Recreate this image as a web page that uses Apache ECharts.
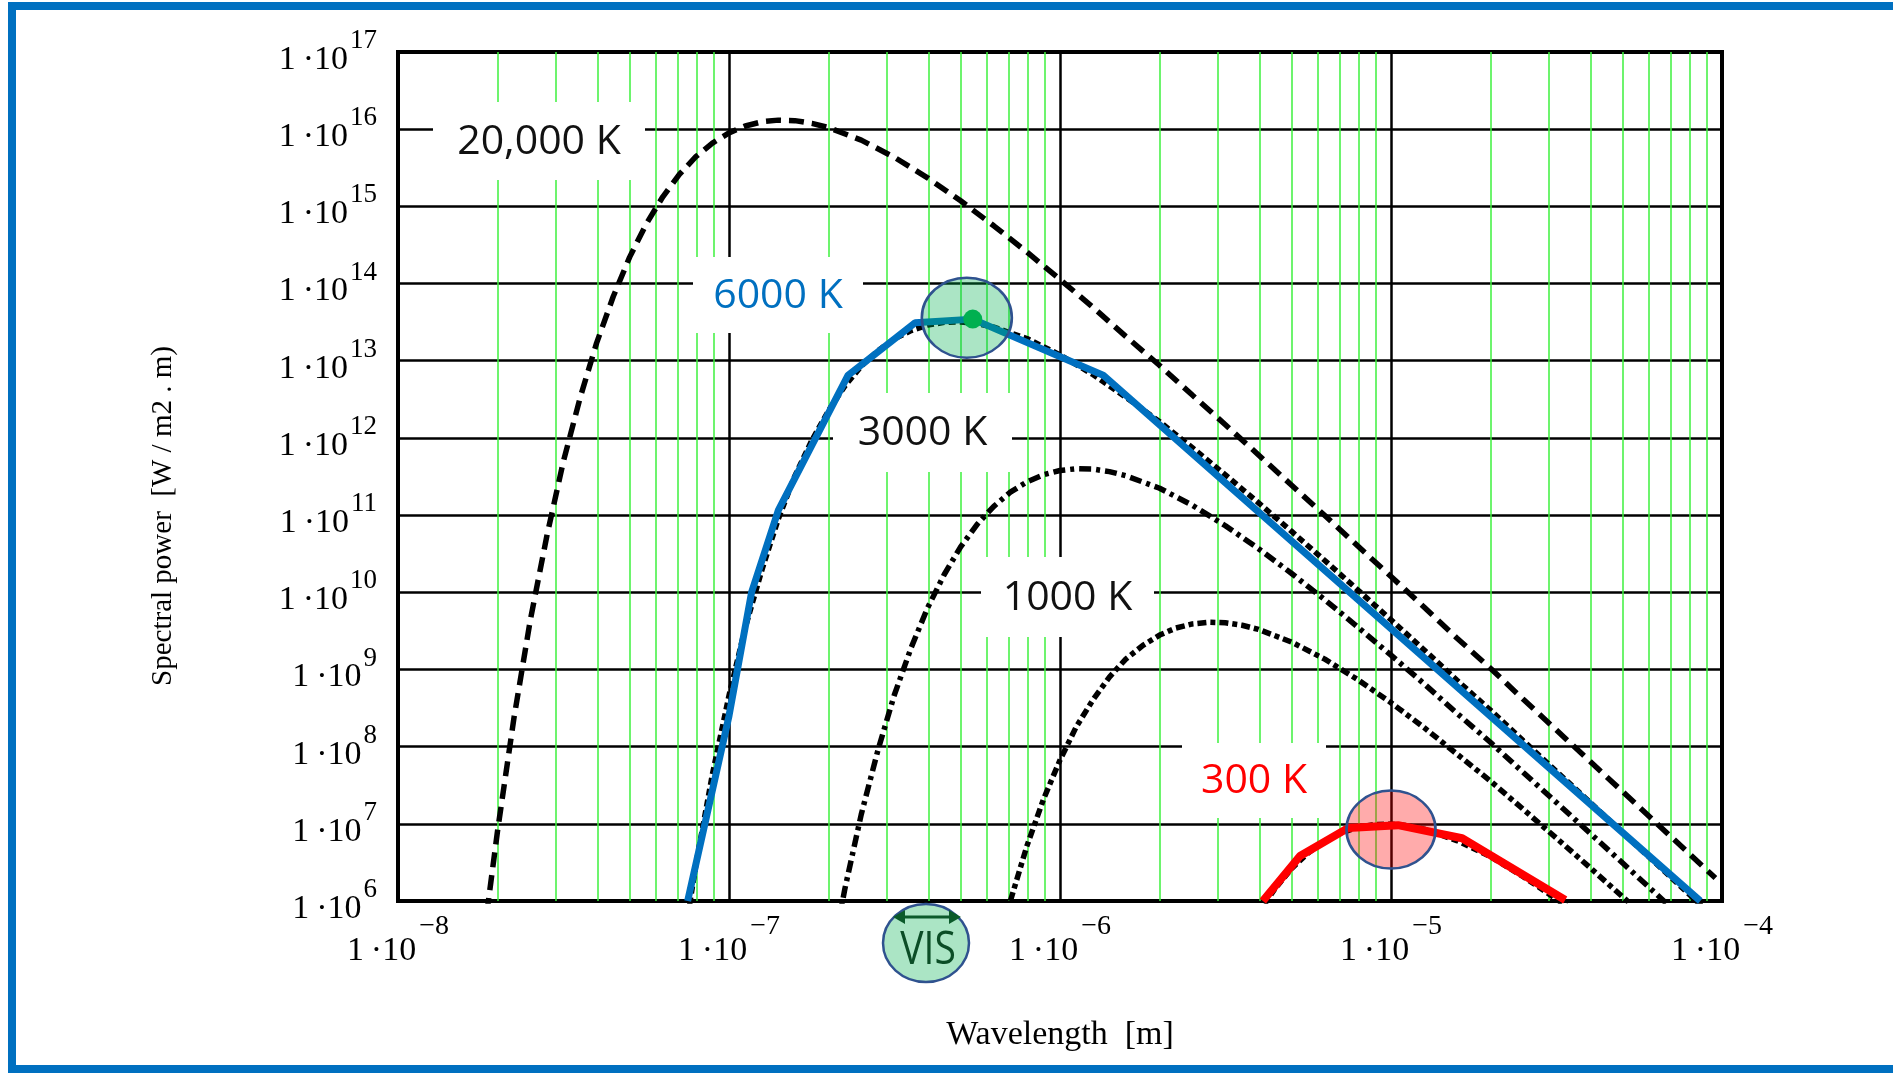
<!DOCTYPE html>
<html>
<head>
<meta charset="utf-8">
<script src="https://cdn.jsdelivr.net/npm/echarts@6/dist/echarts.min.js"></script>
<style>
html,body{margin:0;padding:0;background:#fff;}
#chart{width:1893px;height:1073px;}
</style>
</head>
<body>
<div id="chart"></div>
<script>
// ---------- tick labels ----------
const tickMantissa = '1\u2009·10';
const xTickExponents = ['−8', '−7', '−6', '−5', '−4'];
const yTickExponents = ['6', '7', '8', '9', '10', '11', '12', '13', '14', '15', '16', '17'];

// ---------- curve labels ----------
const curveLabels = ['20,000 K', '6000 K', '3000 K', '1000 K', '300 K'];

// ---------- series values (wavelength [m], spectral power) ----------
const lambda20000K = [1.78e-8, 2.00e-8, 2.24e-8, 2.51e-8, 2.82e-8, 3.16e-8, 3.55e-8, 3.98e-8, 4.47e-8, 5.01e-8,
  5.62e-8, 6.31e-8, 7.08e-8, 7.94e-8, 8.91e-8, 1.00e-7, 1.12e-7, 1.26e-7, 1.41e-7, 1.58e-7, 1.78e-7, 2.00e-7,
  2.51e-7, 3.16e-7, 3.98e-7, 5.01e-7, 6.31e-7, 7.94e-7, 1.00e-6, 1.26e-6, 1.58e-6, 2.00e-6, 2.51e-6, 3.16e-6,
  3.98e-6, 5.01e-6, 6.31e-6, 7.94e-6, 1.00e-5, 1.26e-5, 1.58e-5, 2.00e-5, 2.51e-5, 3.16e-5, 3.98e-5, 5.01e-5,
  6.31e-5, 7.94e-5, 9.55e-5];
const power20000K = [1.80e5, 8.26e6, 2.34e8, 4.35e9, 5.51e10, 4.97e11, 3.31e12, 1.69e13, 6.79e13, 2.20e14,
  5.89e14, 1.33e15, 2.59e15, 4.40e15, 6.61e15, 8.95e15, 1.10e16, 1.25e16, 1.31e16, 1.29e16, 1.19e16, 1.05e16,
  7.21e15, 4.32e15, 2.34e15, 1.18e15, 5.60e14, 2.56e14, 1.13e14, 4.89e13, 2.07e13, 8.67e12, 3.59e12, 1.48e12,
  6.01e11, 2.44e11, 9.86e10, 3.97e10, 1.60e10, 6.41e9, 2.56e9, 1.03e9, 4.10e8, 1.64e8, 6.53e7, 2.61e7,
  1.04e7, 4.14e6, 1.98e6];

const lambda6000K = [7.08e-8, 7.94e-8, 8.91e-8, 1.00e-7, 1.12e-7, 1.26e-7, 1.41e-7, 1.58e-7, 1.78e-7, 2.00e-7,
  2.24e-7, 2.51e-7, 2.82e-7, 3.16e-7, 3.55e-7, 3.98e-7, 4.47e-7, 5.01e-7, 5.62e-7, 6.31e-7, 7.94e-7, 1.00e-6,
  1.26e-6, 1.58e-6, 2.00e-6, 2.51e-6, 3.16e-6, 3.98e-6, 5.01e-6, 6.31e-6, 7.94e-6, 1.00e-5, 1.26e-5, 1.58e-5,
  2.00e-5, 2.51e-5, 3.16e-5, 3.98e-5, 5.01e-5, 6.31e-5, 7.94e-5, 8.71e-5];
const power6000K = [1.30e5, 2.92e6, 4.38e7, 4.59e8, 3.50e9, 2.01e10, 8.98e10, 3.20e11, 9.33e11, 2.27e12,
  4.72e12, 8.51e12, 1.35e13, 1.92e13, 2.46e13, 2.89e13, 3.14e13, 3.18e13, 3.02e13, 2.72e13, 1.94e13, 1.19e13,
  6.59e12, 3.37e12, 1.62e12, 7.46e11, 3.32e11, 1.44e11, 6.14e10, 2.58e10, 1.07e10, 4.40e9, 1.79e9, 7.29e8,
  2.95e8, 1.19e8, 4.79e7, 1.92e7, 7.69e6, 3.08e6, 1.23e6, 8.53e5];

// thick blue trace drawn over the 6000 K curve
const lambda6000KTrace = [7.50e-8, 1.00e-7, 1.17e-7, 1.41e-7, 2.29e-7, 3.65e-7, 5.45e-7, 1.35e-6, 8.60e-5];
const power6000KTrace = [1.0e6, 2.5e8, 1.0e10, 1.16e11, 6.5e12, 3.1e13, 3.46e13, 6.5e12, 1.0e6];

const lambda3000K = [2.00e-7, 2.24e-7, 2.51e-7, 2.82e-7, 3.16e-7, 3.55e-7, 3.98e-7, 4.47e-7, 5.01e-7, 5.62e-7,
  6.31e-7, 7.08e-7, 7.94e-7, 8.91e-7, 1.00e-6, 1.12e-6, 1.26e-6, 1.41e-6, 1.58e-6, 2.00e-6, 2.51e-6, 3.16e-6,
  3.98e-6, 5.01e-6, 6.31e-6, 7.94e-6, 1.00e-5, 1.26e-5, 1.58e-5, 2.00e-5, 2.51e-5, 3.16e-5, 3.98e-5, 5.01e-5,
  6.31e-5, 7.08e-5];
const power3000K = [1.12e5, 1.45e6, 1.33e7, 9.08e7, 4.70e8, 1.91e9, 6.27e9, 1.70e10, 3.88e10, 7.60e10,
  1.30e11, 1.98e11, 2.69e11, 3.33e11, 3.78e11, 3.99e11, 3.94e11, 3.66e11, 3.24e11, 2.23e11, 1.34e11, 7.28e10,
  3.67e10, 1.75e10, 8.00e9, 3.54e9, 1.53e9, 6.50e8, 2.72e8, 1.13e8, 4.62e7, 1.89e7, 7.66e6, 3.10e6,
  1.25e6, 7.91e5];

const lambda1000K = [6.31e-7, 7.08e-7, 7.94e-7, 8.91e-7, 1.00e-6, 1.12e-6, 1.26e-6, 1.41e-6, 1.58e-6, 1.78e-6,
  2.00e-6, 2.24e-6, 2.51e-6, 2.82e-6, 3.16e-6, 3.55e-6, 3.98e-6, 5.01e-6, 6.31e-6, 7.94e-6, 1.00e-5, 1.26e-5,
  1.58e-5, 2.00e-5, 2.51e-5, 3.16e-5, 3.98e-5, 5.01e-5, 5.25e-5];
const power1000K = [1.49e5, 1.00e6, 5.13e6, 2.07e7, 6.71e7, 1.81e8, 4.09e8, 7.98e8, 1.36e9, 2.05e9,
  2.79e9, 3.44e9, 3.89e9, 4.09e9, 4.03e9, 3.74e9, 3.30e9, 2.26e9, 1.36e9, 7.36e8, 3.71e8, 1.76e8,
  8.05e7, 3.56e7, 1.54e7, 6.53e6, 2.74e6, 1.13e6, 9.48e5];

const lambda300K = [3.98e-6, 4.47e-6, 5.01e-6, 5.62e-6, 6.31e-6, 7.08e-6, 7.94e-6, 8.91e-6, 1.00e-5, 1.12e-5,
  1.26e-5, 1.58e-5, 2.00e-5, 2.51e-5, 3.16e-5, 3.55e-5];
const power300K = [6.98e5, 1.46e6, 2.63e6, 4.19e6, 5.96e6, 7.67e6, 9.02e6, 9.79e6, 9.93e6, 9.46e6,
  8.53e6, 6.07e6, 3.74e6, 2.07e6, 1.06e6, 7.40e5];

// thick red trace drawn over the 300 K curve
const lambda300KTrace = [4.10e-6, 5.31e-6, 7.41e-6, 1.05e-5, 1.64e-5, 3.36e-5];
const power300KTrace = [1.0e6, 3.83e6, 8.8e6, 9.6e6, 6.5e6, 1.03e6];

// highlighted peaks [wavelength, power]
const peak6000K = [5.45e-7, 3.46e13];
const peakZone6000K = [5.23e-7, 3.61e13];
const peakZone300K = [1.0e-5, 8.43e6];

// axis range
const xMin = 1e-8, xMax = 1e-4, yMin = 1e6, yMax = 1e17;

// ---------- helpers ----------
function zip(xs, ys) { return xs.map((x, i) => [x, ys[i]]); }
function tickExp(v) { return Math.round(Math.log10(v)); }

const serif = '"Liberation Serif", "Times New Roman", serif';
const sans = '"Open Sans", "Noto Sans", sans-serif';
const richY = {
  b: { fontFamily: serif, fontSize: 34, color: '#000', height: 30, lineHeight: 46, verticalAlign: 'bottom' },
  e: { fontFamily: serif, fontSize: 27, color: '#000', height: 24, lineHeight: 46, verticalAlign: 'top', padding: [0, 0, 0, 2] }
};
const richX = {
  b: { fontFamily: serif, fontSize: 34, color: '#000', height: 30, lineHeight: 52, verticalAlign: 'bottom' },
  e: { fontFamily: serif, fontSize: 28, color: '#000', height: 26, lineHeight: 52, verticalAlign: 'top', padding: [0, 0, 0, 3] }
};

// minor (2..9) vertical grid positions
const minorX = [];
for (let k = -8; k <= -5; k++) {
  for (let m = 2; m <= 9; m++) minorX.push(m * Math.pow(10, k));
}

const chart = echarts.init(document.getElementById('chart'), null, { renderer: 'canvas' });

function labelBox(text, color, x1, y1, x2, y2) {
  return {
    type: 'group', z: 2,
    children: [
      { type: 'rect', z: 2, shape: { x: x1, y: y1, width: x2 - x1, height: y2 - y1 }, style: { fill: '#fff' } },
      { type: 'text', z: 2, x: (x1 + x2) / 2, y: (y1 + y2) / 2 + 1,
        style: { text: text, fill: color, font: '41px ' + sans, align: 'center', verticalAlign: 'middle' } }
    ]
  };
}

const blackCurve = (name, xs, ys, dash) => ({
  name: name, type: 'line', z: 3, showSymbol: false, symbol: 'none', data: zip(xs, ys),
  lineStyle: { color: '#000', width: 5.5, type: dash }
});

const option = {
  animation: false,
  backgroundColor: '#fff',
  grid: { left: 398, right: 171, top: 52, bottom: 172, show: true, borderColor: '#000', borderWidth: 4, backgroundColor: 'transparent' },
  xAxis: {
    type: 'log', logBase: 10, min: xMin, max: xMax, interval: 1,
    name: 'Wavelength  [m]', nameLocation: 'middle', nameGap: 117,
    nameTextStyle: { fontFamily: serif, fontSize: 34, color: '#000' },
    axisLine: { show: true, lineStyle: { color: '#000', width: 4 } },
    axisTick: { show: false },
    splitLine: { show: true, lineStyle: { color: '#000', width: 2.5 } },
    axisLabel: {
      interval: 0, margin: 13, showMinLabel: true, showMaxLabel: true,
      formatter: v => '{b|' + tickMantissa + '}{e|' + xTickExponents[tickExp(v) + 8] + '}',
      rich: richX
    }
  },
  yAxis: {
    type: 'log', logBase: 10, min: yMin, max: yMax, interval: 1,
    axisLine: { show: true, lineStyle: { color: '#000', width: 4 } },
    axisTick: { show: false },
    splitLine: { show: true, lineStyle: { color: '#000', width: 2.5 } },
    axisLabel: {
      interval: 0, margin: 21, showMinLabel: true, showMaxLabel: true,
      formatter: v => '{b|' + tickMantissa + '}{e|' + yTickExponents[tickExp(v) - 6] + '}',
      rich: richY
    }
  },
  graphic: [
    // blue frame
    { type: 'rect', z: 0, shape: { x: 8, y: 2, width: 1885, height: 8 }, style: { fill: '#0070c0' } },
    { type: 'rect', z: 0, shape: { x: 8, y: 2, width: 8, height: 1071 }, style: { fill: '#0070c0' } },
    { type: 'rect', z: 0, shape: { x: 8, y: 1065, width: 1885, height: 8 }, style: { fill: '#0070c0' } },
    // y axis title
    { type: 'text', z: 2, x: 163, y: 516, rotation: Math.PI / 2,
      style: { text: 'Spectral power  [W / m2 . m)', font: '29px ' + serif, fill: '#000', align: 'center', verticalAlign: 'middle' } },
    // curve labels (white boxes hide grid)
    labelBox(curveLabels[0], '#111', 433, 102, 645, 180),
    labelBox(curveLabels[1], '#0070c0', 693, 257, 863, 333),
    labelBox(curveLabels[2], '#111', 833, 393, 1012, 472),
    labelBox(curveLabels[3], '#111', 981, 557, 1154, 637),
    labelBox(curveLabels[4], '#ff0000', 1182, 743, 1326, 818),
    // VIS marker
    { type: 'ellipse', z: 5, shape: { cx: 926, cy: 943, rx: 43, ry: 39 },
      style: { fill: 'rgba(0,176,80,0.33)', stroke: '#2f528f', lineWidth: 2.5 } },
    { type: 'line', z: 6, shape: { x1: 900, y1: 917, x2: 954, y2: 917 }, style: { stroke: '#0b5a2a', lineWidth: 3 } },
    { type: 'polygon', z: 6, shape: { points: [[893, 917], [905, 910], [905, 924]] }, style: { fill: '#0b5a2a' } },
    { type: 'polygon', z: 6, shape: { points: [[961, 917], [949, 910], [949, 924]] }, style: { fill: '#0b5a2a' } },
    { type: 'text', z: 6, x: 928, y: 951, scaleX: 0.85,
      style: { text: 'VIS', font: '46px ' + sans, fill: '#0b4d26', align: 'center', verticalAlign: 'middle' } }
  ],
  series: [
    Object.assign(blackCurve('20,000 K', lambda20000K, power20000K, [15, 8]), {
      markLine: {
        z: 1, silent: true, symbol: ['none', 'none'], label: { show: false },
        lineStyle: { color: '#3cf03c', width: 1.5, type: 'solid' },
        emphasis: { disabled: true },
        data: minorX.map(v => [{ coord: [v, yMin] }, { coord: [v, yMax] }])
      }
    }),
    blackCurve('6000 K', lambda6000K, power6000K, [7, 4]),
    blackCurve('3000 K', lambda3000K, power3000K, [12, 5, 4, 5]),
    blackCurve('1000 K', lambda1000K, power1000K, [9, 4, 5, 4]),
    blackCurve('300 K', lambda300K, power300K, [7, 4]),
    { name: '6000 K trace', type: 'line', z: 4, showSymbol: false, symbol: 'none', data: zip(lambda6000KTrace, power6000KTrace),
      lineStyle: { color: '#0070c0', width: 7 } },
    { name: '300 K trace', type: 'line', z: 4, showSymbol: false, symbol: 'none', data: zip(lambda300KTrace, power300KTrace),
      lineStyle: { color: '#ff0000', width: 8 },
      markPoint: {
        z: 10, silent: true, label: { show: false },
        data: [
          { coord: peakZone6000K, symbol: 'circle', symbolSize: [90, 80],
            itemStyle: { color: 'rgba(0,176,80,0.33)', borderColor: '#2f528f', borderWidth: 2.5 } },
          { coord: peak6000K, symbol: 'circle', symbolSize: 19, itemStyle: { color: '#00b050' } },
          { coord: peakZone300K, symbol: 'circle', symbolSize: [89, 78],
            itemStyle: { color: 'rgba(255,0,0,0.33)', borderColor: '#2f528f', borderWidth: 2.5 } }
        ]
      }
    }
  ]
};
chart.setOption(option);
</script>
</body>
</html>
